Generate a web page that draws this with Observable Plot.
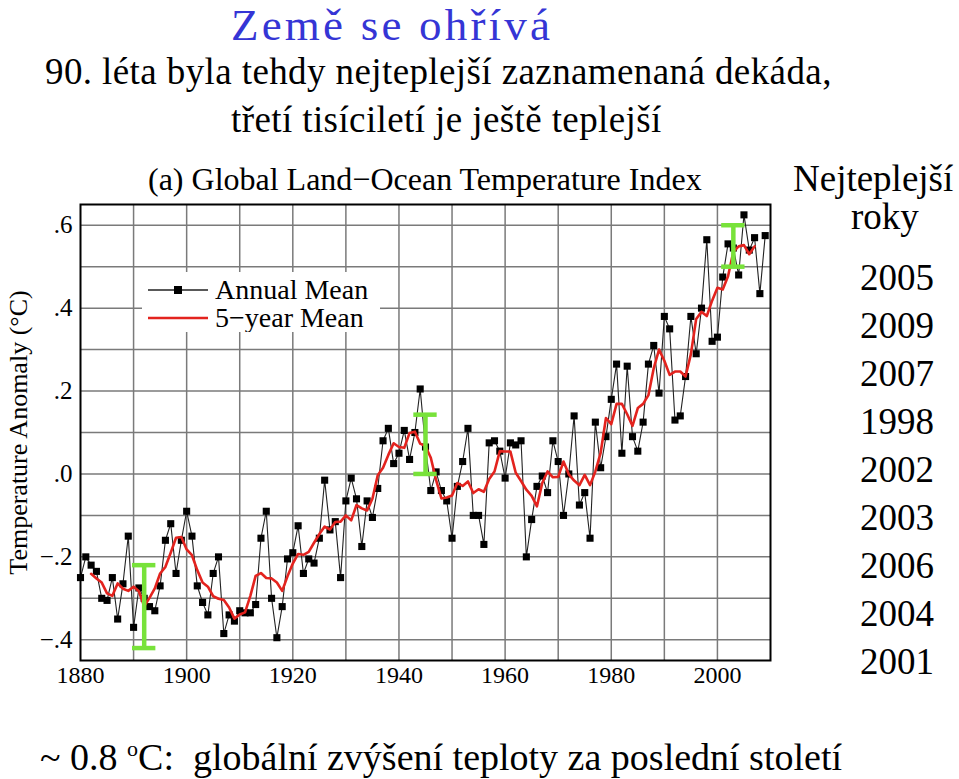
<!DOCTYPE html>
<html><head><meta charset="utf-8">
<script src="https://cdn.jsdelivr.net/npm/d3@7"></script>
<script src="https://cdn.jsdelivr.net/npm/@observablehq/plot@0.6"></script>
<style>
body{margin:0;background:#fff;width:959px;height:779px;overflow:hidden;position:relative;font-family:"Liberation Serif","Times New Roman",serif;}
.t{position:absolute;white-space:nowrap;line-height:1;color:#000;}
#chart{position:absolute;left:0;top:150px;}
#legend{position:absolute;left:142px;top:272px;width:238px;height:60px;background:#fff;}
</style></head><body>
<div class="t" style="left:231px;top:3px;font-size:45px;letter-spacing:3.2px;color:#3535d5">Země se ohřívá</div>
<div class="t" style="left:45px;top:53px;font-size:37px;letter-spacing:0.4px">90. léta byla tehdy nejteplejší zaznamenaná dekáda,</div>
<div class="t" style="left:231px;top:101px;font-size:37px;letter-spacing:0.4px">třetí tisíciletí je ještě teplejší</div>
<div class="t" style="left:148px;top:163px;font-size:32px">(a) Global Land−Ocean Temperature Index</div>
<div id="chart"></div>
<div id="legend"></div>
<div id="right"></div>
<div class="t" style="left:40px;top:738px;font-size:38px">~ 0.8 <sup style="font-size:22px;vertical-align:14px">o</sup>C:&nbsp; globální zvýšení teploty za poslední století</div>
<script>
// Annual mean temperature anomaly (°C), 1880–2009
const startYear = 1880;
const annual = [
-0.25,-0.20,-0.22,-0.235,-0.30,-0.305,-0.25,-0.35,-0.265,-0.15,
-0.37,-0.275,-0.30,-0.32,-0.33,-0.27,-0.16,-0.12,-0.24,-0.16,
-0.09,-0.15,-0.27,-0.31,-0.34,-0.24,-0.20,-0.385,-0.34,-0.355,
-0.33,-0.335,-0.335,-0.315,-0.155,-0.09,-0.30,-0.395,-0.32,-0.205,
-0.19,-0.125,-0.24,-0.205,-0.215,-0.155,-0.015,-0.135,-0.115,-0.25,
-0.065,-0.01,-0.06,-0.175,-0.065,-0.105,-0.035,0.08,0.11,0.025,
0.05,0.105,0.035,0.10,0.205,0.065,-0.04,0.005,-0.04,-0.065,
-0.155,-0.03,0.03,0.11,-0.10,-0.10,-0.17,0.075,0.08,0.055,
-0.01,0.075,0.07,0.08,-0.20,-0.11,-0.03,-0.005,-0.045,0.08,
0.03,-0.10,0.00,0.14,-0.075,-0.045,-0.155,0.125,0.015,0.09,
0.18,0.265,0.05,0.26,0.09,0.055,0.125,0.265,0.31,0.195,
0.38,0.35,0.13,0.14,0.235,0.38,0.29,0.40,0.565,0.32,
0.33,0.475,0.555,0.545,0.48,0.625,0.54,0.57,0.435,0.575];
// 5-year mean (°C), 1882–2007
const meanStart = 1882;
const fiveYear = [
-0.241,-0.252,-0.262,-0.288,-0.294,-0.264,-0.277,-0.282,
-0.272,-0.283,-0.319,-0.299,-0.276,-0.24,-0.224,-0.19,-0.154,-0.152,
-0.182,-0.196,-0.232,-0.262,-0.272,-0.295,-0.301,-0.304,-0.322,-0.349,
-0.339,-0.334,-0.294,-0.246,-0.239,-0.251,-0.252,-0.262,-0.282,-0.247,
-0.216,-0.193,-0.195,-0.188,-0.166,-0.145,-0.127,-0.134,-0.116,-0.115,
-0.10,-0.112,-0.075,-0.083,-0.088,-0.06,-0.003,0.015,0.046,0.074,
0.065,0.063,0.099,0.102,0.073,0.067,0.039,-0.015,-0.059,-0.057,
-0.052,-0.022,-0.029,-0.018,-0.046,-0.037,-0.043,-0.012,0.006,0.055,
0.054,0.054,0.003,-0.017,-0.038,-0.053,-0.078,-0.022,0.006,-0.008,
-0.007,0.03,-0.001,-0.016,-0.027,-0.002,-0.027,0.006,0.051,0.135,
0.12,0.169,0.169,0.144,0.116,0.159,0.169,0.19,0.255,0.30,
0.273,0.239,0.247,0.247,0.235,0.289,0.374,0.391,0.381,0.418,
0.449,0.445,0.477,0.536,0.549,0.552,0.53,0.549];
// uncertainty bars (green)
const errYears = [1892, 1945, 2003];
const errLow = [-0.42, 0.0, 0.50];
const errHigh = [-0.22, 0.143, 0.60];
const errCapHalf = 2.2;
// axes
const xTicks = [1880,1900,1920,1940,1960,1980,2000];
const xGrid = [1890,1900,1910,1920,1930,1940,1950,1960,1970,1980,1990,2000];
const yTicks = [-0.4,-0.2,0,0.2,0.4,0.6];
const yTickLabels = ["−.4","−.2",".0",".2",".4",".6"];
const yGrid = [-0.4,-0.3,-0.2,-0.1,0,0.1,0.2,0.3,0.4,0.5,0.6];
// legend & side panel
const legendLabels = ["Annual Mean","5−year Mean"];
const warmestTitle = ["Nejteplejší","roky"];
const warmestYears = ["2005","2009","2007","1998","2002","2003","2006","2004","2001"];

const annualData = annual.map((v,i)=>({year:startYear+i, value:v}));
const meanData = fiveYear.map((v,i)=>({year:meanStart+i, value:v}));
const errData = errYears.map((y,i)=>({year:y, lo:errLow[i], hi:errHigh[i]}));

const green = "#78e23a";
const plot = Plot.plot({
  width: 959, height: 560,
  marginLeft: 80, marginRight: 189, marginTop: 54, marginBottom: 50,
  style: {fontFamily: '"Liberation Serif","Times New Roman",serif', background: "transparent", color: "#000"},
  x: {domain: [1880, 2010]},
  y: {domain: [-0.45, 0.65]},
  marks: [
    Plot.gridX(xGrid, {stroke: "#7a7a7a", strokeOpacity: 1, strokeWidth: 1.5}),
    Plot.gridY(yGrid, {stroke: "#7a7a7a", strokeOpacity: 1, strokeWidth: 1.5}),
    Plot.axisX({ticks: xTicks, tickFormat: d => String(d), tickSize: 0, tickPadding: 5, fontSize: 24, label: null}),
    Plot.axisY({ticks: yTicks, tickFormat: d => yTickLabels[yTicks.indexOf(d)], tickSize: 0, tickPadding: 8, fontSize: 25,
      label: "Temperature Anomaly (°C)", labelAnchor: "center", labelArrow: "none", labelOffset: 72}),
    Plot.lineY(annualData, {x: "year", y: "value", stroke: "#222", strokeWidth: 1.1}),
    Plot.dot(annualData, {x: "year", y: "value", symbol: "square", r: 4, fill: "#000"}),
    Plot.lineY(meanData, {x: "year", y: "value", stroke: "#e3231e", strokeWidth: 2.6}),
    Plot.ruleX(errData, {x: "year", y1: "lo", y2: "hi", stroke: green, strokeWidth: 4.5}),
    Plot.ruleY(errData, {y: "lo", x1: d => d.year - errCapHalf, x2: d => d.year + errCapHalf, stroke: green, strokeWidth: 4.5}),
    Plot.ruleY(errData, {y: "hi", x1: d => d.year - errCapHalf, x2: d => d.year + errCapHalf, stroke: green, strokeWidth: 4.5}),
    Plot.frame({stroke: "#000", strokeWidth: 2})
  ]
});
document.getElementById("chart").appendChild(plot);
plot.querySelectorAll("[aria-label='y-axis label'] text, [aria-label='y-axis label']").forEach(e=>{ if(e.tagName==="g"||e.tagName==="text") e.setAttribute("font-size", 26); });

// legend
const lg = d3.select("#legend").append("svg").attr("width",238).attr("height",60)
  .style("font-family",'"Liberation Serif","Times New Roman",serif');
lg.append("line").attr("x1",6).attr("x2",66).attr("y1",18).attr("y2",18).attr("stroke","#222").attr("stroke-width",1.5);
lg.append("rect").attr("x",32).attr("y",14).attr("width",8).attr("height",8).attr("fill","#000");
lg.append("line").attr("x1",6).attr("x2",66).attr("y1",46).attr("y2",46).attr("stroke","#e3231e").attr("stroke-width",2.6);
legendLabels.forEach((t,i)=>lg.append("text").attr("x",73).attr("y",27+28*i).attr("font-size",28).text(t));

// right panel
const right = document.getElementById("right");
[[warmestTitle[0],793,160],[warmestTitle[1],851,198]].forEach(([t,l,tp])=>{
  const d=document.createElement("div"); d.className="t"; d.style.cssText=`left:${l}px;top:${tp}px;font-size:37px`; d.textContent=t; right.appendChild(d);
});
warmestYears.forEach((t,i)=>{
  const d=document.createElement("div"); d.className="t"; d.style.cssText=`left:860px;top:${259+48*i}px;font-size:37px`; d.textContent=t; right.appendChild(d);
});
</script>
</body></html>
